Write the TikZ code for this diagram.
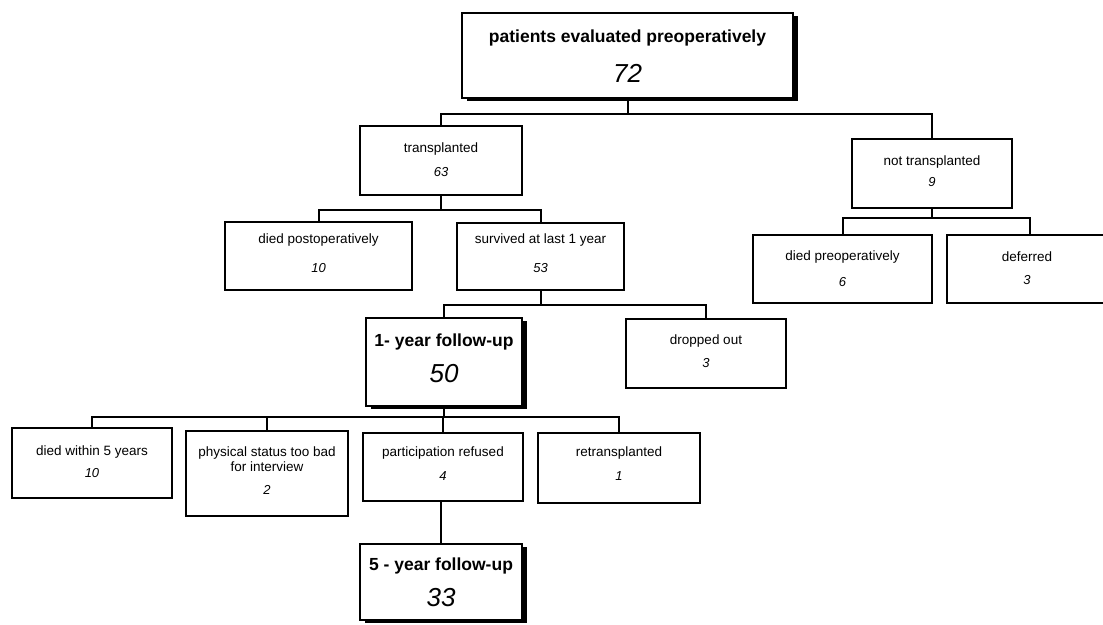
\documentclass[tikz,border=0pt]{standalone}
\usepackage{fontspec}
\setmainfont{Liberation Sans}
\usetikzlibrary{shadows}
\tikzset{
  box/.style={draw=black, fill=white, line width=1.3pt, rectangle, inner sep=0pt},
  bigbox/.style={box, general shadow={fill=black, shadow xshift=5pt, shadow yshift=-3pt}},
  lbl/.style={inner sep=0pt, align=center, font=\fontsize{13.5}{15}\selectfont},
  num/.style={inner sep=0pt, font=\fontsize{13}{15}\selectfont\itshape},
  biglbl/.style={inner sep=0pt, font=\fontsize{17.5}{20}\selectfont\bfseries},
  bignum/.style={inner sep=0pt, font=\fontsize{26}{30}\selectfont\itshape},
  conn/.style={draw=black, line width=2pt}
}
\begin{document}
\begin{tikzpicture}[x=1pt,y=-1pt]
\clip (0,0) rectangle (1103,624);
\fill[white] (0,0) rectangle (1103,624);

% boxes
\node[bigbox, minimum width=331pt, minimum height=85pt] (top) at (627.5,55.5) {};
\node[box, minimum width=162pt, minimum height=69pt] (trans) at (441,160.5) {};
\node[box, minimum width=160pt, minimum height=69pt] (nottrans) at (932,173.5) {};
\node[box, minimum width=187pt, minimum height=68pt] (diedpost) at (318.5,256) {};
\node[box, minimum width=167pt, minimum height=67pt] (surv) at (540.5,256.5) {};
\node[box, minimum width=179pt, minimum height=68pt] (diedpre) at (842.5,269) {};
\node[box, minimum width=166pt, minimum height=68pt] (deferred) at (1030,269) {};
\node[bigbox, minimum width=156pt, minimum height=88pt] (oneyr) at (444,362) {};
\node[box, minimum width=160pt, minimum height=69pt] (dropped) at (706,353.5) {};
\node[box, minimum width=160pt, minimum height=70pt] (died5) at (92,463) {};
\node[box, minimum width=162pt, minimum height=85pt] (phys) at (267,473.5) {};
\node[box, minimum width=160pt, minimum height=68pt] (part) at (443,467) {};
\node[box, minimum width=162pt, minimum height=70pt] (retrans) at (619,468) {};
\node[bigbox, minimum width=162pt, minimum height=76pt] (fiveyr) at (441,582) {};

% connectors
\coordinate (b0) at (627.5,114);
\draw[conn] (top.south) -- (b0);
\draw[conn] (b0) -| (trans.north);
\draw[conn] (b0) -| (nottrans.north);

\coordinate (b1) at (441,210);
\draw[conn] (trans.south) -- (b1);
\draw[conn] (b1) -| (diedpost.north);
\draw[conn] (b1) -| (surv.north);

\coordinate (b2) at (932,218);
\draw[conn] (nottrans.south) -- (b2);
\draw[conn] (b2) -| (diedpre.north);
\draw[conn] (b2) -| (deferred.north);

\coordinate (b3) at (540.5,305);
\draw[conn] (surv.south) -- (b3);
\draw[conn] (b3) -| (oneyr.north);
\draw[conn] (b3) -| (dropped.north);

\coordinate (b4) at (444,417);
\draw[conn] (oneyr.south) -- (b4);
\draw[conn] (b4) -| (died5.north);
\draw[conn] (b4) -| (phys.north);
\draw[conn] (b4) -| (part.north);
\draw[conn] (b4) -| (retrans.north);

\draw[conn] (part.south -| fiveyr.north) -- (fiveyr.north);

% texts
\node[biglbl] (topT) at (627.5,38) {patients evaluated preoperatively};
\node[bignum] (topN) at (627.5,73) {72};

\node[lbl] (transT) at (441,149) {transplanted};
\node[num] (transN) at (441,172) {63};

\node[lbl] (nottransT) at (932,162) {not transplanted};
\node[num] (nottransN) at (932,182) {9};

\node[lbl] (diedpostT) at (318.5,240) {died postoperatively};
\node[num] (diedpostN) at (318.5,268) {10};

\node[lbl] (survT) at (540.5,240) {survived at last 1 year};
\node[num] (survN) at (540.5,268) {53};

\node[lbl] (diedpreT) at (842.5,257) {died preoperatively};
\node[num] (diedpreN) at (842.5,282) {6};

\node[lbl] (deferredT) at (1027,257) {deferred};
\node[num] (deferredN) at (1027,280) {3};

\node[biglbl] (oneyrT) at (444,342) {1- year follow-up};
\node[bignum] (oneyrN) at (444,374) {50};

\node[lbl] (droppedT) at (706,341) {dropped out};
\node[num] (droppedN) at (706,363) {3};

\node[lbl] (died5T) at (92,452) {died within 5 years};
\node[num] (died5N) at (92,473) {10};

\node[lbl] (physT) at (267,459) {physical status too bad\\for interview};
\node[num] (physN) at (267,490) {2};

\node[lbl] (partT) at (443,453) {participation refused};
\node[num] (partN) at (443,476) {4};

\node[lbl] (retransT) at (619,453) {retransplanted};
\node[num] (retransN) at (619,476) {1};

\node[biglbl] (fiveyrT) at (441,566) {5 - year follow-up};
\node[bignum] (fiveyrN) at (441,598) {33};
\end{tikzpicture}
\end{document}
